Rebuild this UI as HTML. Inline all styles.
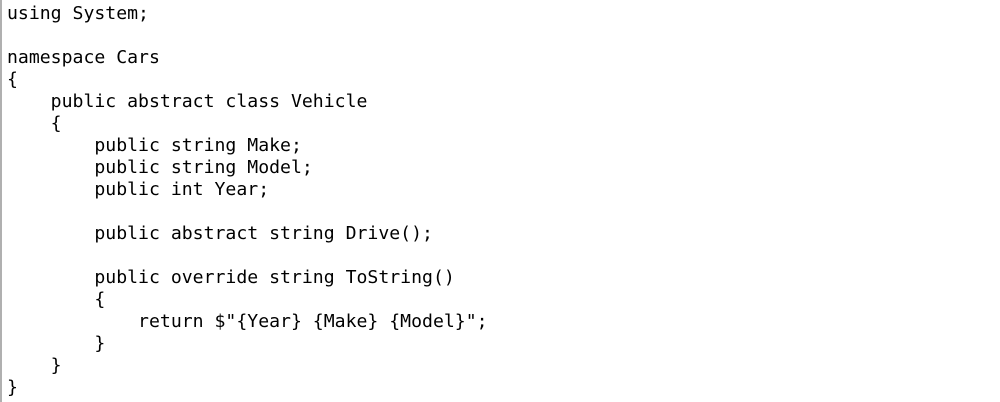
<!DOCTYPE html>
<html><head><style>
html,body{margin:0;padding:0;background:#fff;width:1000px;height:402px;overflow:hidden}
.b{position:absolute;left:0;top:0;width:2px;height:402px;background:#b0b0b0}
pre{position:absolute;left:7px;top:3px;margin:0;font-family:"DejaVu Sans Mono","Liberation Mono",monospace;font-size:18.15px;line-height:22px;color:#000}
</style></head><body>
<div class="b"></div>
<pre>using System;

namespace Cars
{
    public abstract class Vehicle
    {
        public string Make;
        public string Model;
        public int Year;

        public abstract string Drive();

        public override string ToString()
        {
            return $"{Year} {Make} {Model}";
        }
    }
}</pre>
</body></html>
